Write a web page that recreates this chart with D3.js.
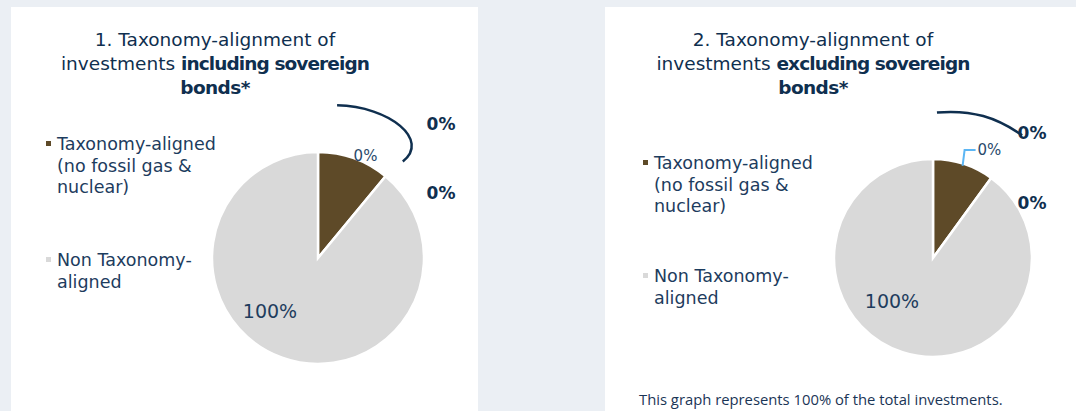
<!DOCTYPE html>
<html>
<head>
<meta charset="utf-8">
<script src="https://cdn.jsdelivr.net/npm/d3@7"></script>
<style>
  html, body { margin: 0; padding: 0; background: #ebeff4; }
  svg { display: block; }
</style>
</head>
<body>
<svg id="chart" width="1076" height="411"></svg>
<script>
// ---------- data ----------
const categories = ["Taxonomy-aligned (no fossil gas & nuclear)", "Non Taxonomy-aligned"];
const legendLines = [["Taxonomy-aligned", "(no fossil gas &", "nuclear)"], ["Non Taxonomy-", "aligned"]];
const titleLine1 = ["1. Taxonomy-alignment of", "2. Taxonomy-alignment of"];
const titleLine2Plain = ["investments ", "investments "];
const titleLine2Bold = ["including sovereign", "excluding sovereign"];
const titleLine3Bold = ["bonds*", "bonds*"];
// slice sizes as drawn in the picture (percent of the disc)
const sliceValuesIncluding = [11, 89];
const sliceValuesExcluding = [10, 90];
// value labels printed on the chart
const sliceLabelsIncluding = ["0%", "100%"];
const sliceLabelsExcluding = ["0%", "100%"];
const sideLabelsIncluding = ["0%", "0%"];
const sideLabelsExcluding = ["0%", "0%"];
const footnote = "This graph represents 100% of the total investments.";

// ---------- styles ----------
const colors = ["#5e4a28", "#d9d9d9"];
const navy = "#0f2f4f";
const textColor = "#1d3c5e";
const fontMain = "'DejaVu Sans', sans-serif";

const svg = d3.select("#chart");

const panels = [
  { x: 11, w: 467, titleX: 215, cx: 318, cy: 258, r: 106,
    values: sliceValuesIncluding, labels: sliceLabelsIncluding, side: sideLabelsIncluding,
    legendX: 46, legendY: [150, 266], sideX: 441, sideY: [130, 199], variant: 0 },
  { x: 605, w: 471, titleX: 813, cx: 933, cy: 258, r: 99,
    values: sliceValuesExcluding, labels: sliceLabelsExcluding, side: sideLabelsExcluding,
    legendX: 643, legendY: [169, 282], sideX: 1032, sideY: [139, 209], variant: 1 }
];

const pie = d3.pie().sort(null).value(d => d);
const arc = d3.arc().innerRadius(0);

panels.forEach((p, pi) => {
  const g = svg.append("g");
  // white panel
  g.append("rect").attr("x", p.x).attr("y", 7).attr("width", p.w).attr("height", 404).attr("fill", "#ffffff");

  // title
  const t = g.append("text").attr("text-anchor", "middle").attr("fill", navy)
    .style("font-family", fontMain).style("font-size", "18.5px");
  t.append("tspan").attr("x", p.titleX).attr("y", 46).style("font-weight", "normal").text(titleLine1[pi]);
  const l2 = t.append("tspan").attr("x", p.titleX).attr("y", 70);
  l2.append("tspan").style("font-weight", "normal").text(titleLine2Plain[pi]);
  l2.append("tspan").style("font-weight", "bold").style("letter-spacing", "-0.9px").text(titleLine2Bold[pi]);
  t.append("tspan").attr("x", p.titleX).attr("y", 94).style("font-weight", "bold").style("letter-spacing", "-0.6px").text(titleLine3Bold[pi]);

  // legend
  legendLines.forEach((lines, i) => {
    const y0 = p.legendY[i];
    g.append("rect").attr("x", p.legendX).attr("y", y0 - 9).attr("width", 5).attr("height", 5).attr("fill", colors[i]);
    const lt = g.append("text").attr("fill", textColor).style("font-family", fontMain).style("font-size", "17.5px");
    lines.forEach((ln, j) => {
      lt.append("tspan").attr("x", p.legendX + 11).attr("y", y0 + j * 21.5).text(ln);
    });
  });

  // pie
  const arcs = pie(p.values);
  const pg = g.append("g").attr("transform", `translate(${p.cx},${p.cy})`);
  pg.selectAll("path").data(arcs).join("path")
    .attr("d", d => arc.outerRadius(p.r)(d))
    .attr("fill", (d, i) => colors[i])
    .attr("stroke", "#ffffff").attr("stroke-width", 2.5).attr("stroke-linejoin", "miter");

  // small label for aligned slice
  const a0 = arcs[0];
  const mid = (a0.startAngle + a0.endAngle) / 2;
  if (p.variant === 0) {
    const lr = p.r * 1.04;
    pg.append("text").attr("x", Math.sin(mid + 0.1) * lr).attr("y", -Math.cos(mid + 0.1) * lr + 2)
      .attr("text-anchor", "middle").attr("fill", "#2a4a6b")
      .style("font-family", fontMain).style("font-size", "15px")
      .text(p.labels[0]);
    // curved bracket
    const pth = d3.path();
    const r = p.r;
    pth.moveTo(r * 0.18, -r * 1.44);
    pth.bezierCurveTo(r * 0.68, -r * 1.43, r * 1.06, -r * 1.11, r * 0.80, -r * 0.91);
    pg.append("path").attr("d", pth.toString()).attr("fill", "none").attr("stroke", navy).attr("stroke-width", 2.5);
  } else {
    const r = p.r;
    // blue leader line
    const ex = Math.sin(mid) * r, ey = -Math.cos(mid) * r;
    const lead = d3.path();
    lead.moveTo(ex - 1, ey + 2);
    lead.lineTo(ex + 1, -r * 1.09);
    lead.lineTo(ex + 12, -r * 1.09);
    pg.append("path").attr("d", lead.toString()).attr("fill", "none").attr("stroke", "#5cb6f4").attr("stroke-width", 2);
    pg.append("text").attr("x", ex + 14).attr("y", -r * 1.09 + 5)
      .attr("fill", "#2a4a6b")
      .style("font-family", fontMain).style("font-size", "15px")
      .text(p.labels[0]);
    const pth = d3.path();
    pth.moveTo(r * 0.04, -r * 1.47);
    pth.bezierCurveTo(r * 0.40, -r * 1.50, r * 0.64, -r * 1.42, r * 0.90, -r * 1.24);
    pg.append("path").attr("d", pth.toString()).attr("fill", "none").attr("stroke", navy).attr("stroke-width", 2.5);
  }

  // big label for non-aligned slice
  const lx = p.variant === 0 ? 270 - p.cx : 892 - p.cx;
  const ly = p.variant === 0 ? 318 - p.cy : 308 - p.cy;
  pg.append("text").attr("x", lx).attr("y", ly).attr("text-anchor", "middle")
    .attr("fill", "#1f3d5e").style("font-family", fontMain).style("font-size", "19px")
    .text(p.labels[1]);

  // side bold labels
  p.side.forEach((s, i) => {
    g.append("text").attr("x", p.sideX).attr("y", p.sideY[i]).attr("text-anchor", "middle")
      .attr("fill", navy).style("font-family", fontMain).style("font-size", "17px").style("font-weight", "bold")
      .text(s);
  });
});

// footnote
svg.append("text").attr("x", 639).attr("y", 405).attr("fill", "#1a3556")
  .style("font-family", "'Open Sans', sans-serif").style("font-size", "14.8px")
  .text(footnote);
</script>
</body>
</html>
